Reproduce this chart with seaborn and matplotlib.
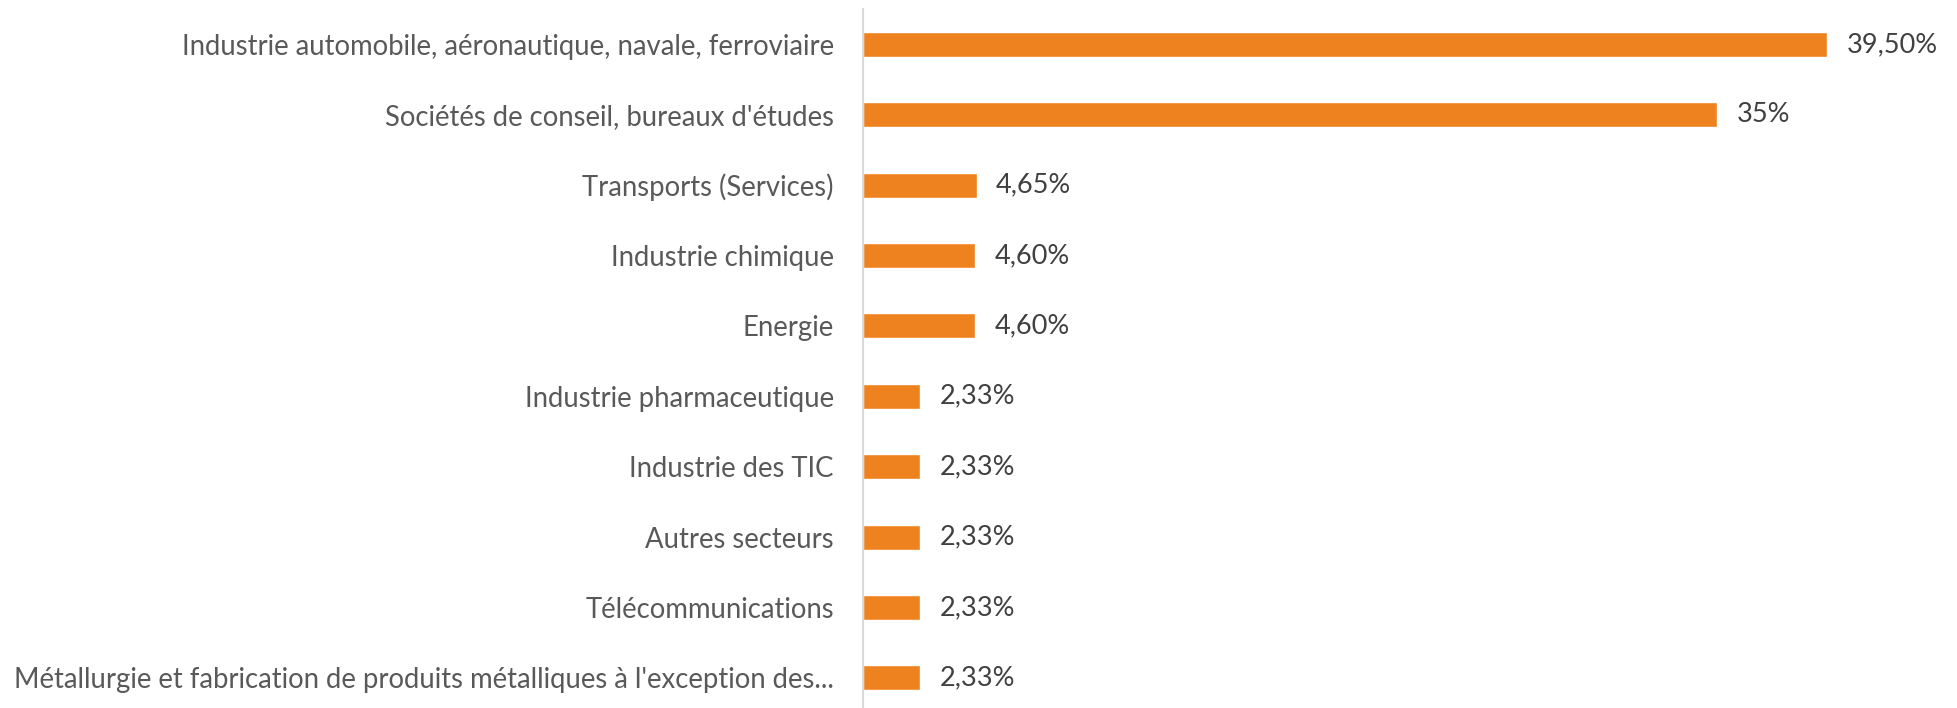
import matplotlib
matplotlib.use("Agg")
import matplotlib.pyplot as plt
import seaborn as sns

# données
secteurs = [
    "Industrie automobile, aéronautique, navale, ferroviaire",
    "Sociétés de conseil, bureaux d'études",
    "Transports (Services)",
    "Industrie chimique",
    "Energie",
    "Industrie pharmaceutique",
    "Industrie des TIC",
    "Autres secteurs",
    "Télécommunications",
    "Métallurgie et fabrication de produits métalliques à l'exception des...",
]
valeurs = [39.50, 35.0, 4.65, 4.60, 4.60, 2.33, 2.33, 2.33, 2.33, 2.33]
etiquettes = ["39,50%", "35%", "4,65%", "4,60%", "4,60%",
              "2,33%", "2,33%", "2,33%", "2,33%", "2,33%"]

sns.set_style("white")
plt.rcParams['font.family'] = ['Lato', 'DejaVu Sans']

fig = plt.figure(figsize=(19.57, 7.08), dpi=100)
ax = fig.add_axes([863 / 1957, -0.007, 1074 / 1957, 0.994])

sns.barplot(x=valeurs, y=secteurs, color="#EE821F", saturation=1,
            width=0.355, orient="h", ax=ax)

for i, (v, t) in enumerate(zip(valeurs, etiquettes)):
    ax.annotate(t, xy=(v, i), xytext=(14, 0), textcoords="offset points",
                va="center", ha="left", fontsize=19.5, color="#404040")

ax.set_xlim(0, 44)
ax.set_xlabel("")
ax.set_ylabel("")
ax.set_xticks([])
ax.tick_params(axis="y", length=0, pad=21, labelsize=19.8, labelcolor="#595959")
for s in ["top", "right", "bottom"]:
    ax.spines[s].set_visible(False)
ax.spines["left"].set_color("#D9D9D9")
ax.spines["left"].set_linewidth(1.5)

fig.savefig("out.png", dpi=100)
